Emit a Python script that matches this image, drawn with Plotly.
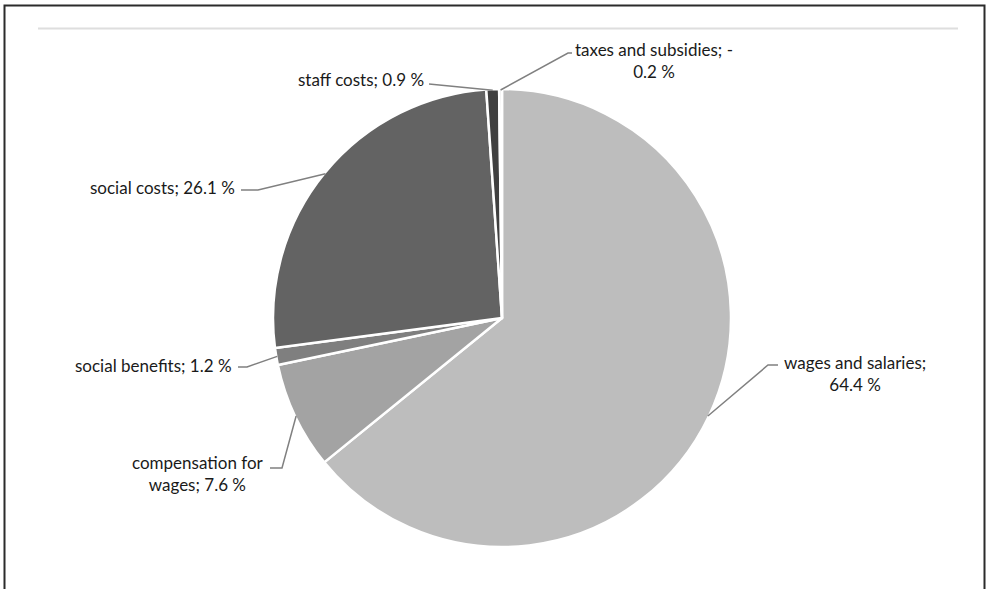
import math
import plotly.graph_objects as go

# ---- data ----
categories = ["wages and salaries", "compensation for wages", "social benefits",
              "social costs", "staff costs", "taxes and subsidies"]
shares = [64.4, 7.6, 1.2, 26.1, 0.9, -0.2]
slice_colors = ["#bdbdbd", "#a3a3a3", "#7f7f7f", "#636363", "#404040", "#d9d9d9"]

# ---- layout helpers (pixels of the 988x589 page) ----
W, H = 988, 589
CX, CY, R = 502, 318, 229


def px(x, y):
    return x / W, 1 - y / H


# label placement (anchor x, block centre y, anchor side) and leader elbow / end points
label_pos = [(782, 373, "left"), (266, 473, "right"), (234, 365, "right"),
             (237, 187, "right"), (426, 80, "right"), (573, 61, "left")]
leader_pts = [[(768, 365), (778, 365)],
              [(282, 468), (270, 468)],
              [(247, 367), (238, 367)],
              [(258, 190), (241, 190)],
              [(429, 84), (429, 84)],
              [(568, 53), (572, 53)]]
wrap_after = {0: "salaries;", 1: "for", 5: "; -"}

draw_vals = [abs(v) for v in shares]
total = sum(draw_vals)

fig = go.Figure(go.Pie(
    labels=categories,
    values=draw_vals,
    sort=False,
    direction="clockwise",
    rotation=0,
    textinfo="none",
    marker=dict(colors=slice_colors, line=dict(color="white", width=2.5)),
    showlegend=False,
    domain=dict(x=[(CX - R) / W, (CX + R) / W],
                y=[1 - (CY + R) / H, 1 - (CY - R) / H]),
))

shapes = []
annotations = []
cum = 0.0
for i, (cat, val) in enumerate(zip(categories, shares)):
    mid = (cum + draw_vals[i] / 2) / total * 2 * math.pi
    cum += draw_vals[i]
    sx = CX + (R - 1) * math.sin(mid)
    sy = CY - (R - 1) * math.cos(mid)
    pts = [(sx, sy)] + leader_pts[i]
    path = "M " + " L ".join(f"{px(x, y)[0]},{px(x, y)[1]}" for x, y in pts)
    shapes.append(dict(type="path", xref="paper", yref="paper", path=path,
                       line=dict(color="#808080", width=1.5)))
    txt = f"{cat}; {val:.1f} %"
    if i in wrap_after:
        key = wrap_after[i]
        k = txt.index(key) + len(key)
        txt = txt[:k] + "<br>" + txt[k:].lstrip()
    ax_, ay_, side = label_pos[i]
    lx, ly = px(ax_, ay_)
    annotations.append(dict(x=lx, y=ly, xref="paper", yref="paper", text=txt,
                            showarrow=False, align="center",
                            xanchor=side, yanchor="middle",
                            font=dict(family="Lato", size=17, color="#1a1a1a")))

# thin grey rule at the top and the outer frame
x0, y0 = px(38, 28.5)
x1, _ = px(958, 28.5)
shapes.append(dict(type="line", xref="paper", yref="paper", x0=x0, y0=y0, x1=x1, y1=y0,
                   line=dict(color="#dedede", width=2)))
fx0, fy0 = px(4.5, 5.5)
fx1, fy1 = px(984.5, 600)
shapes.append(dict(type="rect", xref="paper", yref="paper", x0=fx0, y0=fy0, x1=fx1, y1=fy1,
                   line=dict(color="#2b2b2b", width=2)))

fig.update_layout(
    width=W, height=H,
    margin=dict(l=0, r=0, t=0, b=0),
    paper_bgcolor="white", plot_bgcolor="white",
    shapes=shapes, annotations=annotations,
)

fig.write_html("out.html", config={"displayModeBar": False},
               post_script="document.body.style.margin='0';document.body.style.overflow='hidden';")
